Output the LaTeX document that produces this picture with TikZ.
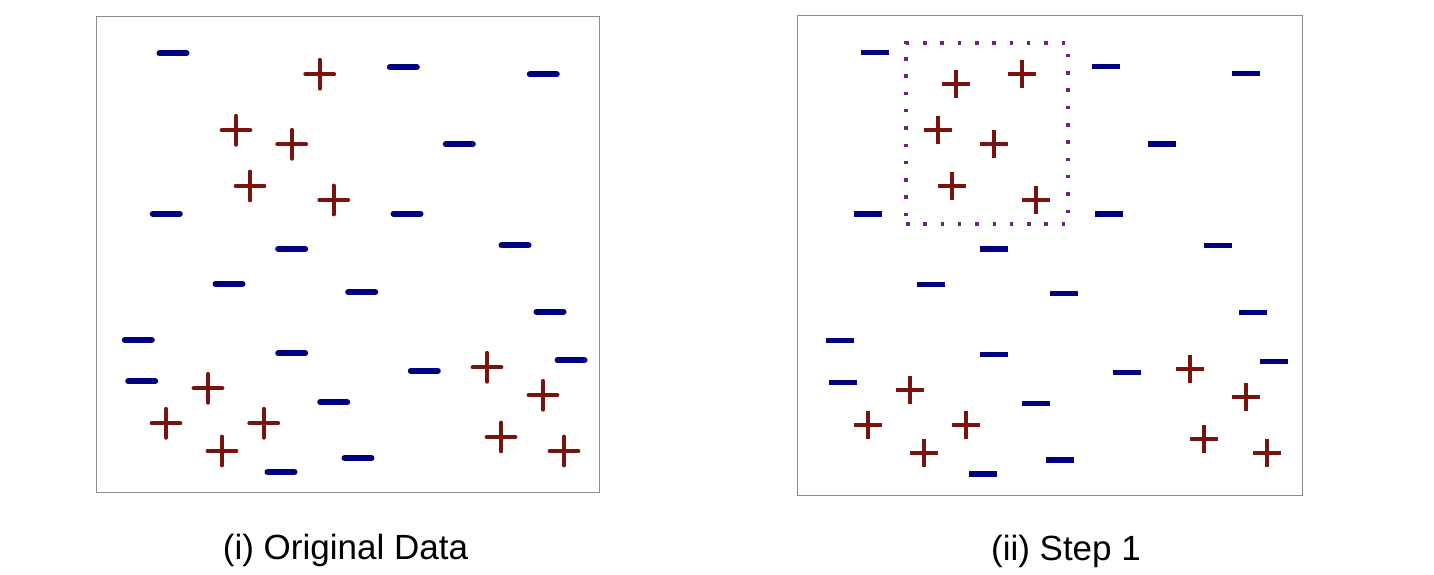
\documentclass[tikz,border=0pt]{standalone}
\usepackage{fontspec}
\setmainfont{Liberation Sans}
\definecolor{minusblue}{RGB}{0,0,128}
\definecolor{plusred}{RGB}{120,20,15}
\definecolor{dotpurple}{RGB}{112,32,128}
\definecolor{framegray}{RGB}{140,140,140}
\tikzset{
  frameBox/.style={draw=framegray, line width=1pt},
  minusRound/.style={draw=minusblue, line width=6pt, line cap=round},
  minusFlat/.style={draw=minusblue, line width=5.5pt, line cap=butt},
  plusRound/.style={draw=plusred, line width=3.8pt, line cap=round},
  plusFlat/.style={draw=plusred, line width=3.8pt, line cap=butt},
  dotBox/.style={draw=dotpurple, line width=3.5pt, dash pattern=on 3.5pt off 13.8pt},
  caption/.style={font=\fontsize{35}{40}\selectfont, anchor=base, inner sep=0pt},
  mL/.pic={\path[minusRound] (-13.5,0) -- (13.5,0);},
  mR/.pic={\path[minusFlat] (-14,0) -- (14,0);},
  pL/.pic={\path[plusRound] (-14.5,0) -- (14.5,0) (0,-14.5) -- (0,14.5);},
  pR/.pic={\path[plusFlat] (-14,0) -- (14,0) (0,-14) -- (0,14);},
}
\begin{document}
\begin{tikzpicture}[x=1pt,y=-1pt]
\useasboundingbox (0,0) rectangle (1434,574);
% ---------- left panel ----------
\node[frameBox, minimum width=503pt, minimum height=476pt, inner sep=0pt] (leftframe) at (347.5,254) {};
\foreach \x/\y in {173/53.3, 403.3/67.3, 543.3/74.3, 459.3/144.3, 166.3/213.7, 407/213.7,
  291.7/248.7, 515/245.3, 229/283.7, 361.7/292.3, 550/311.7, 138.3/339.7, 291.7/353.3,
  424.3/370.7, 571/360.3, 141.7/381.3, 333.7/402.3, 358/458, 281/472}
  \pic at (\x,\y) {mL};
\foreach \x/\y in {319.7/74.3, 236/130.3, 291.7/144.3, 250/186, 333.7/200, 487/367.3,
  208/388.3, 543/395.3, 166/423.3, 263.7/423.3, 501/437, 222/451, 564/451}
  \pic at (\x,\y) {pL};
\node[caption] (leftcap) at (345.5,559) {(i) Original Data};
% ---------- right panel ----------
\node[frameBox, minimum width=505pt, minimum height=480pt, inner sep=0pt] (rightframe) at (1049.8,255.2) {};
\foreach \x/\y in {874.7/52.7, 1106/66.7, 1246/73.3, 1162/144, 867.7/214, 1109.3/214,
  994/249, 1218/245.7, 931/284.3, 1064.3/293.3, 1253/312.7, 840/340.7, 994/354.7,
  1127/372.3, 1274/361.7, 843.3/382.7, 1036/403.7, 1060.3/460, 983.3/474}
  \pic at (\x,\y) {mR};
\foreach \x/\y in {955.7/83.7, 1022/73.7, 937.7/129.7, 994/143.7, 951.7/186, 1035.7/200,
  1190/368.7, 909.7/389.7, 1246/396.7, 867.7/424.7, 965.7/424.7, 1204/438.7,
  923.7/452.7, 1267/452.7}
  \pic at (\x,\y) {pR};
\node[dotBox, minimum width=162pt, minimum height=181pt, inner sep=0pt] (region) at (987,133.5) {};
\node[caption] (rightcap) at (1066,560) {(ii) Step 1};
\end{tikzpicture}
\end{document}
